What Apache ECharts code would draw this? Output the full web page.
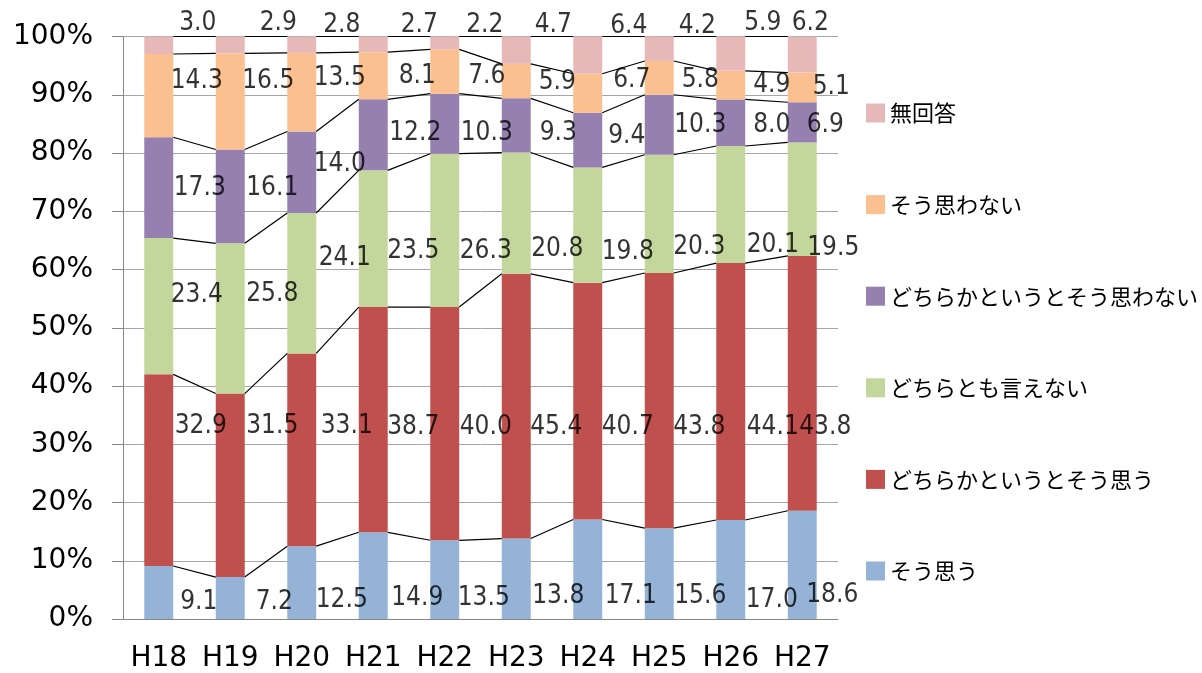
<!DOCTYPE html>
<html>
<head>
<meta charset="utf-8">
<script src="https://cdn.jsdelivr.net/npm/echarts@6/dist/echarts.min.js"></script>
<style>
  html, body { margin: 0; padding: 0; background: #fff; }
  #chart { width: 1202px; height: 673px; }
</style>
</head>
<body>
<div id="chart"></div>
<script>
// Survey years (Heisei)
const categories = ['H18', 'H19', 'H20', 'H21', 'H22', 'H23', 'H24', 'H25', 'H26', 'H27'];

// Answer shares (%) per year, bottom of the stack first
const soOmou            = [9.1, 7.2, 12.5, 14.9, 13.5, 13.8, 17.1, 15.6, 17.0, 18.6];
const dochirakaSoOmou   = [32.9, 31.5, 33.1, 38.7, 40.0, 45.4, 40.7, 43.8, 44.1, 43.8];
const dochiraTomo       = [23.4, 25.8, 24.1, 23.5, 26.3, 20.8, 19.8, 20.3, 20.1, 19.5];
const dochirakaOmowanai = [17.3, 16.1, 14.0, 12.2, 10.3, 9.3, 9.4, 10.3, 8.0, 6.9];
const soOmowanai        = [14.3, 16.5, 13.5, 8.1, 7.6, 5.9, 6.7, 5.8, 4.9, 5.1];
const muKaitou          = [3.0, 2.9, 2.8, 2.7, 2.2, 4.7, 6.4, 4.2, 5.9, 6.2];

const seriesNames = ['そう思う', 'どちらかというとそう思う', 'どちらとも言えない',
                     'どちらかというとそう思わない', 'そう思わない', '無回答'];
const seriesValues = [soOmou, dochirakaSoOmou, dochiraTomo, dochirakaOmowanai, soOmowanai, muKaitou];

// Y-axis tick labels
const yTicks = [0, 10, 20, 30, 40, 50, 60, 70, 80, 90, 100];

// ---- styling / layout (not data) ----
const colors = ['#95B3D7', '#C0504D', '#C3D69B', '#9580B0', '#FAC090', '#E6B9B8'];
const legendOrder = seriesNames.slice().reverse();
const BAR_RATIO = 0.405;
const NUM_FONT = "'DejaVu Sans Condensed', 'DejaVu Sans', sans-serif";
const AXIS_FONT = "'DejaVu Sans', sans-serif";
const CJK_FONT = "'Noto Sans CJK JP', sans-serif";

// Value-label anchors: height on the percent axis and horizontal shift (px) from the bar centre
const labelLevel = [
  [2.8, 2.8, 3.3, 3.5, 3.5, 3.9, 3.9, 3.9, 3.3, 4.0],
  [33.1, 33.1, 33.1, 33.0, 33.0, 33.0, 33.0, 33.0, 33.0, 33.0],
  [55.5, 55.7, 62.0, 63.2, 63.2, 63.4, 63.0, 63.9, 64.2, 63.7],
  [74.0, 74.0, 78.0, 83.4, 83.4, 83.4, 82.8, 84.8, 84.8, 84.8],
  [92.4, 92.4, 92.9, 93.1, 93.1, 92.2, 92.5, 92.5, 91.7, 91.3],
  [102.2, 102.2, 101.9, 101.9, 101.9, 101.9, 101.7, 101.7, 102.2, 102.2]
];
const labelShift = [
  [40, 44, 40, 44, 39, 42, 43, 41, 41, 30],
  [42, 42, 45, 40, 41, 40, 40, 40, 42, 23],
  [38, 42, 43, 40, 41, 41, 40, 40, 42, 31],
  [41, 42, 38, 42, 42, 42, 39, 41, 41, 23],
  [38, 38, 38, 44, 42, 41, 44, 41, 41, 29],
  [39, 48, 40, 46, 40, 37, 41, 38, 32, 8]
];

// 100% stacking: each year's answers are scaled to their column total
const totals = categories.map((_, i) => seriesValues.reduce((s, arr) => s + arr[i], 0));
const shares = seriesValues.map(arr => arr.map((v, i) => v / totals[i] * 100));
const cumTops = shares.map((_, s) =>
  categories.map((__, i) => shares.slice(0, s + 1).reduce((acc, arr) => acc + arr[i], 0)));

const barSeries = seriesNames.map((name, s) => ({
  name: name,
  type: 'bar',
  stack: 'total',
  barWidth: (BAR_RATIO * 100) + '%',
  itemStyle: { color: colors[s] },
  data: shares[s],
  z: 2
}));

// Connector lines between the tops of neighbouring segments
const connectorData = [];
cumTops.forEach(tops => {
  for (let i = 0; i < tops.length - 1; i++) connectorData.push([i, tops[i], tops[i + 1]]);
});
const connectorSeries = {
  type: 'custom',
  silent: true,
  z: 3,
  encode: { x: 0, y: 1 },
  data: connectorData,
  renderItem: function (params, api) {
    const i = api.value(0);
    const p1 = api.coord([i, api.value(1)]);
    const p2 = api.coord([i + 1, api.value(2)]);
    const half = api.size([1, 0])[0] * BAR_RATIO / 2;
    return {
      type: 'line',
      shape: { x1: p1[0] + half, y1: p1[1], x2: p2[0] - half, y2: p2[1] },
      style: { stroke: '#000', lineWidth: 1.2 }
    };
  }
};

// Value labels
const labelSeries = seriesValues.map((vals, s) => ({
  type: 'scatter',
  silent: true,
  clip: false,
  z: 5,
  symbolSize: 1,
  itemStyle: { color: 'transparent' },
  data: vals.map((v, i) => ({
    value: [i, labelLevel[s][i]],
    label: { offset: [labelShift[s][i], 0] }
  })),
  label: {
    show: true,
    position: 'inside',
    color: '#000',
    fontFamily: NUM_FONT,
    fontSize: 26,
    formatter: p => vals[p.dataIndex].toFixed(1)
  }
}));

const chart = echarts.init(document.getElementById('chart'), null, { renderer: 'canvas' });
chart.setOption({
  animation: false,
  backgroundColor: '#ffffff',
  grid: { left: 123, right: 364, top: 36.5, bottom: 53.5 },
  legend: {
    orient: 'vertical',
    left: 861,
    top: 97,
    icon: 'rect',
    itemWidth: 19,
    itemHeight: 19,
    itemGap: 69.6,
    selectedMode: false,
    data: legendOrder,
    textStyle: { fontFamily: CJK_FONT, fontSize: 22, lineHeight: 22, color: '#000' }
  },
  xAxis: {
    type: 'category',
    data: categories,
    axisLine: { lineStyle: { color: '#868686', width: 1 } },
    axisTick: { length: 12, interval: 0, lineStyle: { color: '#868686' } },
    axisLabel: { interval: 0, fontFamily: AXIS_FONT, fontSize: 28, color: '#000', margin: 26 },
    splitLine: { show: false }
  },
  yAxis: {
    type: 'value',
    min: yTicks[0],
    max: yTicks[yTicks.length - 1],
    interval: yTicks[1] - yTicks[0],
    axisLine: { show: true, lineStyle: { color: '#868686' } },
    axisTick: { show: true, length: 11, lineStyle: { color: '#868686' } },
    axisLabel: { fontFamily: AXIS_FONT, fontSize: 28, color: '#000', margin: 30, formatter: '{value}%' },
    splitLine: { show: true, lineStyle: { color: '#A6A6A6', width: 1 } }
  },
  series: barSeries.concat([connectorSeries]).concat(labelSeries)
});
</script>
</body>
</html>
